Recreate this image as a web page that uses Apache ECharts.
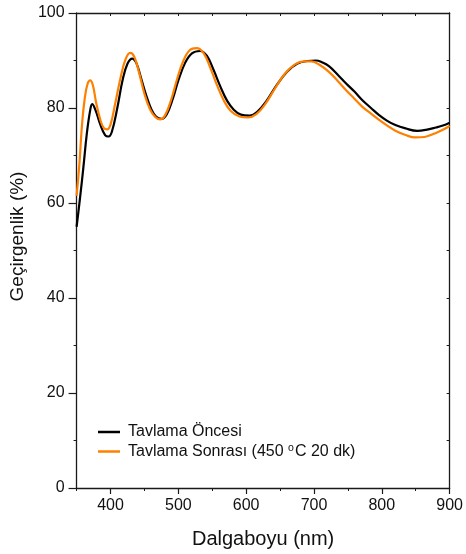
<!DOCTYPE html>
<html>
<head>
<meta charset="utf-8">
<script src="https://cdn.jsdelivr.net/npm/echarts@6/dist/echarts.min.js"></script>
<style>
  html, body { margin: 0; padding: 0; background: #fff; }
  #chart { width: 466px; height: 554px; }
</style>
</head>
<body>
<div id="chart"></div>
<script>
// Transmittance spectra before and after annealing
const seriesNames = ['Tavlama Öncesi', 'Tavlama Sonrası (450 {sup|o}C 20 dk)'];

const wavelengthBefore = [350, 355, 360, 365, 370, 373, 378, 385, 392, 397, 402, 410, 418, 425, 432, 438, 445, 453, 460, 467, 475, 483, 492, 500, 510, 520, 532, 542, 552, 562, 572, 582, 592, 605, 617, 630, 645, 660, 675, 690, 703, 712, 722, 735, 747, 760, 771, 784, 796, 808, 820, 835, 852, 865, 880, 890, 900];
const transBefore = [55, 61, 67.5, 74.5, 79.5, 80.8, 79.5, 76.5, 74.3, 74, 75, 80, 86, 89.3, 90.4, 89.5, 86.3, 82.5, 79.8, 78.2, 77.7, 78.7, 82, 85.8, 89.5, 91.5, 92, 91, 88, 84.5, 81.5, 79.6, 78.6, 78.4, 79.3, 81.5, 84.8, 87.6, 89.3, 89.9, 90, 89.6, 88.8, 87, 85.2, 83.4, 81.7, 80, 78.5, 77.3, 76.4, 75.7, 75.2, 75.4, 75.9, 76.3, 76.9];

const wavelengthAfter = [350, 354, 358, 362, 366, 370, 374, 379, 385, 390, 395, 400, 407, 415, 422, 429, 435, 442, 450, 458, 466, 473, 481, 490, 498, 507, 517, 527, 537, 547, 557, 567, 577, 590, 603, 615, 628, 642, 657, 672, 685, 696, 708, 722, 735, 747, 760, 771, 784, 796, 808, 820, 835, 849, 863, 879, 890, 900];
const transAfter = [61.5, 68, 76.5, 82, 85, 85.8, 84.8, 81, 77.5, 75.8, 75.5, 76.5, 81, 86.5, 90.2, 91.6, 90.8, 87.5, 83, 79.8, 78.1, 77.6, 78.6, 82, 86, 89.8, 92.2, 92.6, 91.6, 88.5, 84.8, 81.6, 79.4, 78.2, 78, 78.7, 80.8, 84, 87.2, 89.2, 89.8, 89.8, 89.1, 87.6, 85.7, 83.8, 81.9, 80.3, 78.8, 77.5, 76.3, 75.2, 74.3, 73.8, 73.9, 74.7, 75.4, 76.2];

const xTickLabels = [400, 500, 600, 700, 800, 900];
const yTickLabels = [0, 20, 40, 60, 80, 100];

const FONT = 'Liberation Sans, Arial, sans-serif';
const AXIS_COLOR = '#1a1a1a';

const zip = (xs, ys) => xs.map((x, i) => [x, ys[i]]);

const chart = echarts.init(document.getElementById('chart'), null, { renderer: 'canvas' });

chart.setOption({
  animation: false,
  backgroundColor: '#fff',
  grid: { left: 76, right: 15, top: 13, bottom: 66, containLabel: false },
  legend: {
    orient: 'vertical',
    left: 98,
    top: 424,
    padding: 0,
    itemWidth: 22,
    itemHeight: 2.5,
    itemGap: 2.5,
    icon: 'rect',
    textStyle: {
      fontFamily: FONT,
      fontSize: 16,
      color: '#111',
      padding: [0, 0, 0, 3],
      rich: {
        sup: { fontFamily: FONT, fontSize: 10.5, color: '#111', padding: [0, 1, 7, 0] }
      }
    },
    data: seriesNames
  },
  xAxis: [
    {
      // main bottom axis: labels and major ticks
      type: 'value', min: 350, max: 900, position: 'bottom',
      name: 'Dalgaboyu (nm)', nameLocation: 'middle', nameGap: 41,
      nameTextStyle: { fontFamily: FONT, fontSize: 20, color: '#111' },
      axisLine: { show: true, onZero: false, lineStyle: { color: AXIS_COLOR, width: 1.3 } },
      axisTick: { show: true, inside: false, length: 6, customValues: xTickLabels, lineStyle: { color: AXIS_COLOR, width: 1.2 } },
      axisLabel: { customValues: xTickLabels, fontFamily: FONT, fontSize: 16, color: '#111', margin: 10 },
      splitLine: { show: false }
    },
    {
      // bottom minor ticks every 50 nm
      type: 'value', min: 350, max: 900, interval: 50, position: 'bottom',
      axisLine: { show: false },
      axisTick: { show: true, inside: false, length: 3, lineStyle: { color: AXIS_COLOR, width: 1 } },
      axisLabel: { show: false },
      splitLine: { show: false }
    },
    {
      // top frame with inward ticks
      type: 'value', min: 350, max: 900, interval: 50, position: 'top',
      axisLine: { show: true, onZero: false, lineStyle: { color: AXIS_COLOR, width: 1.3 } },
      axisTick: { show: true, inside: true, length: 3, lineStyle: { color: AXIS_COLOR, width: 1 } },
      axisLabel: { show: false },
      splitLine: { show: false }
    }
  ],
  yAxis: [
    {
      type: 'value', min: 0, max: 100, interval: 20, position: 'left',
      name: 'Geçirgenlik (%)', nameLocation: 'middle', nameGap: 46, nameRotate: 90,
      nameTextStyle: { fontFamily: FONT, fontSize: 19, color: '#111', padding: [0, 0, 0, 28] },
      axisLine: { show: true, onZero: false, lineStyle: { color: AXIS_COLOR, width: 1.3 } },
      axisTick: { show: true, inside: false, length: 8, lineStyle: { color: AXIS_COLOR, width: 1.2 } },
      minorTick: { show: true, splitNumber: 2, length: 3, lineStyle: { color: AXIS_COLOR, width: 1 } },
      axisLabel: { fontFamily: FONT, fontSize: 16, color: '#111', margin: 12 },
      splitLine: { show: false }
    },
    {
      // right frame with inward ticks
      type: 'value', min: 0, max: 100, interval: 10, position: 'right',
      axisLine: { show: true, onZero: false, lineStyle: { color: AXIS_COLOR, width: 1.3 } },
      axisTick: { show: true, inside: true, length: 3, lineStyle: { color: AXIS_COLOR, width: 1 } },
      axisLabel: { show: false },
      splitLine: { show: false }
    }
  ],
  series: [
    {
      name: seriesNames[0], type: 'line', xAxisIndex: 0, yAxisIndex: 0,
      data: zip(wavelengthBefore, transBefore),
      smooth: 0.4, showSymbol: false, symbol: 'none',
      lineStyle: { color: '#000000', width: 2.2 },
      itemStyle: { color: '#000000' },
      z: 2
    },
    {
      name: seriesNames[1], type: 'line', xAxisIndex: 0, yAxisIndex: 0,
      data: zip(wavelengthAfter, transAfter),
      smooth: 0.4, showSymbol: false, symbol: 'none',
      lineStyle: { color: '#ff8000', width: 2.2 },
      itemStyle: { color: '#ff8000' },
      z: 3
    }
  ]
});
</script>
</body>
</html>
